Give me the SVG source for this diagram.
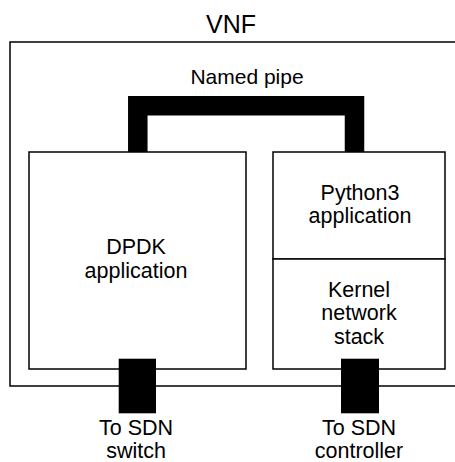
<svg xmlns="http://www.w3.org/2000/svg" width="455" height="462" viewBox="0 0 455 462">
<style>
.box{fill:#fff;stroke:#000;stroke-width:1.5}
.t{font-family:"Liberation Sans",Arial,sans-serif;fill:#000;text-anchor:middle}
.port{fill:#000}
</style>
<rect width="455" height="462" fill="#fff"/>
<text class="t" x="231" y="33" font-size="25">VNF</text>
<g id="vnf"><rect class="box" x="10" y="42" width="460" height="344"/></g>
<text class="t" x="247" y="84" font-size="21">Named pipe</text>
<g id="connectors">
<polyline points="137.8,152 137.8,105.8 354.5,105.8 354.5,152" fill="none" stroke="#000" stroke-width="19.5"/>
</g>
<g id="dpdk">
<rect class="box" x="29" y="152" width="217" height="217"/>
<text class="t" x="136" y="254" font-size="21.5">DPDK</text>
<text class="t" x="136" y="278" font-size="21.5">application</text>
</g>
<g id="python">
<rect class="box" x="273" y="152" width="172" height="107"/>
<text class="t" x="360" y="200" font-size="21.5">Python3</text>
<text class="t" x="360" y="223" font-size="21.5">application</text>
</g>
<g id="kernel">
<rect class="box" x="273" y="259" width="172" height="110"/>
<text class="t" x="359" y="297" font-size="21.5">Kernel</text>
<text class="t" x="359" y="320" font-size="21.5">network</text>
<text class="t" x="359" y="344" font-size="21.5">stack</text>
</g>
<g id="port-switch">
<rect class="port" x="118.7" y="358.7" width="37.3" height="54.6"/>
<text class="t" x="136" y="435" font-size="21.5">To SDN</text>
<text class="t" x="136" y="458" font-size="21.5">switch</text>
</g>
<g id="port-controller">
<rect class="port" x="341" y="358.7" width="38" height="54.6"/>
<text class="t" x="359" y="435" font-size="21.5">To SDN</text>
<text class="t" x="359" y="458" font-size="21.5">controller</text>
</g>
</svg>
